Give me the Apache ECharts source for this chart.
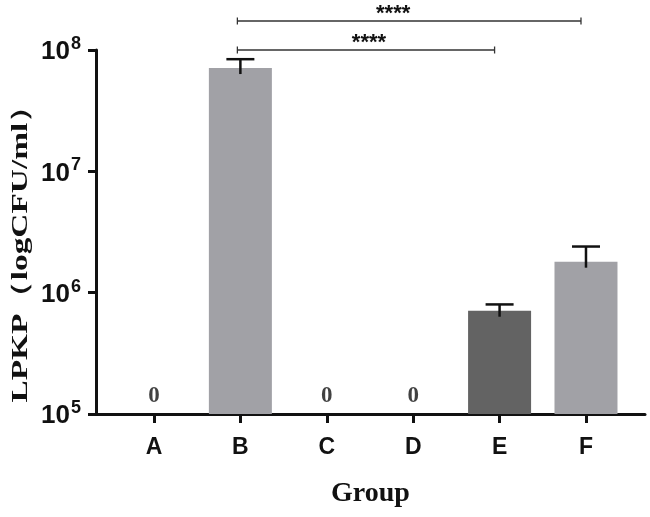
<!DOCTYPE html>
<html><head><meta charset="utf-8">
<script src="https://cdn.jsdelivr.net/npm/echarts@6/dist/echarts.min.js"></script>
<style>html,body{margin:0;padding:0;background:#fff}#c{width:650px;height:517px}</style>
</head><body><div id="c"></div>
<script>
// ---- data ----
const categories = ['A', 'B', 'C', 'D', 'E', 'F'];
const means = [0, 7.1e7, 0, 0, 7.1e5, 1.8e6];
const upper = [0, 8.4e7, 0, 0, 8.0e5, 2.4e6];
const barColors = ['#a1a1a6', '#a1a1a6', '#a1a1a6', '#a1a1a6', '#636363', '#a1a1a6'];
const yTickExponents = [5, 6, 7, 8];
const sigPairs = [[1, 4, '****'], [1, 5, '****']];
const yTitle = 'LPKP（logCFU/ml）';
const xTitle = 'Group';

// ---- layout ----
const gridLeft = 96, gridTop = 50, gridRight = 5, gridBottom = 103;
const sansFont = '"Liberation Sans", Arial, sans-serif';
const serifFont = '"Liberation Serif", "Times New Roman", serif';

const barData = means.map((v, i) => v > 0 ? { value: [i, v], itemStyle: { color: barColors[i] } } : null).filter(Boolean);
const errData = means.map((v, i) => v > 0 ? [i, v, upper[i]] : null).filter(Boolean);
const zeroData = means.map((v, i) => v === 0 ? [i, Math.pow(10, yTickExponents[0])] : null).filter(Boolean);
const starShift = [3, -16];

const chart = echarts.init(document.getElementById('c'), null, { renderer: 'canvas' });
chart.setOption({
  animation: false,
  backgroundColor: '#fff',
  grid: { left: gridLeft, top: gridTop, right: gridRight, bottom: gridBottom, containLabel: false },
  graphic: [{
    type: 'text', x: 21, y: 246, rotation: Math.PI / 2, scaleX: 1.45,
    style: { text: yTitle, align: 'center', verticalAlign: 'middle',
      fontFamily: serifFont, fontWeight: 'bold', fontSize: 23, fill: '#111' }
  }],
  xAxis: {
    type: 'value', min: -0.671, max: 5.683,
    name: xTitle, nameLocation: 'middle', nameGap: 66,
    nameTextStyle: { fontFamily: serifFont, fontWeight: 'bold', fontSize: 28, color: '#111' },
    axisLine: { show: true, onZero: false, lineStyle: { color: '#111', width: 3 } },
    axisTick: { show: true, length: 9, lineStyle: { color: '#111', width: 3 }, customValues: categories.map((c, i) => i) },
    axisLabel: { color: '#111', fontFamily: sansFont, fontWeight: 'bold', fontSize: 23, margin: 22,
      customValues: categories.map((c, i) => i), formatter: v => categories[Math.round(v)] },
    splitLine: { show: false }
  },
  yAxis: {
    type: 'log', logBase: 10, min: Math.pow(10, yTickExponents[0]), max: Math.pow(10, yTickExponents[yTickExponents.length - 1]),
    axisLine: { show: true, onZero: false, lineStyle: { color: '#111', width: 3 } },
    axisTick: { show: true, length: 8, inside: false, lineStyle: { color: '#111', width: 3 } },
    axisLabel: { margin: 15, formatter: v => '{b|10}{s|' + Math.round(Math.log10(v)) + '}',
      rich: {
        b: { fontFamily: sansFont, fontWeight: 'bold', fontSize: 26, color: '#111', verticalAlign: 'bottom' },
        s: { fontFamily: sansFont, fontWeight: 'bold', fontSize: 18, color: '#111', verticalAlign: 'top', padding: [0, 0, 12, 1] }
      } },
    splitLine: { show: false }
  },
  series: [
    { type: 'bar', data: barData, barWidth: 63, clip: true, itemStyle: { borderWidth: 0 } },
    { type: 'custom', data: errData, clip: false, z: 5,
      renderItem: (params, api) => {
        const p1 = api.coord([api.value(0), api.value(1)]);
        const p2 = api.coord([api.value(0), api.value(2)]);
        const st = { stroke: '#111', lineWidth: 2.5 };
        return { type: 'group', children: [
          { type: 'line', shape: { x1: p1[0], y1: p1[1] + 6, x2: p2[0], y2: p2[1] }, style: st },
          { type: 'line', shape: { x1: p2[0] - 14, y1: p2[1], x2: p2[0] + 14, y2: p2[1] }, style: st }
        ] };
      } },
    { type: 'scatter', data: zeroData, symbolSize: 0, z: 6,
      label: { show: true, position: 'top', distance: 6, formatter: '0',
        fontFamily: serifFont, fontWeight: 'bold', fontSize: 23, color: '#111' } },
    { type: 'custom', data: sigPairs.map((p, k) => [p[0], p[1], k]), clip: false, z: 6,
      renderItem: (params, api) => {
        const a = api.value(0), b = api.value(1), row = api.value(2);
        const top = api.coord([a, Math.pow(10, yTickExponents[yTickExponents.length - 1])])[1];
        const x1 = api.coord([a, 1e6])[0] - 3, x2 = api.coord([b, 1e6])[0] - 5;
        const y = top - 29 * row;
        const st = { stroke: '#333', lineWidth: 1.3 };
        return { type: 'group', children: [
          { type: 'line', shape: { x1: x1, y1: y, x2: x2, y2: y }, style: st },
          { type: 'line', shape: { x1: x1, y1: y - 3.5, x2: x1, y2: y + 3.5 }, style: st },
          { type: 'line', shape: { x1: x2, y1: y - 3.5, x2: x2, y2: y + 3.5 }, style: st },
          { type: 'text', style: { text: sigPairs[params.dataIndex][2], x: (x1 + x2) / 2 + starShift[row], y: y + 4,
            align: 'center', verticalAlign: 'bottom', fontFamily: sansFont, fontWeight: 'bold', fontSize: 22, fill: '#111' } }
        ] };
      } }
  ]
});
</script></body></html>
